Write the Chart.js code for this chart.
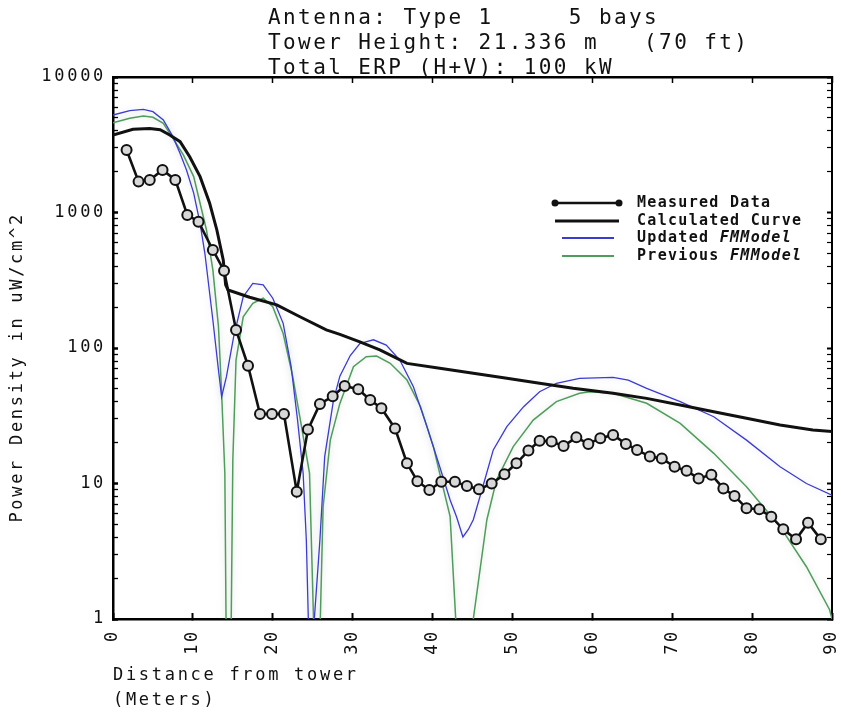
<!DOCTYPE html>
<html>
<head>
<meta charset="utf-8">
<script src="https://cdn.jsdelivr.net/npm/chart.js@4.4.0/dist/chart.umd.min.js"></script>
<style>
html,body{margin:0;padding:0;background:#fff;}
canvas{display:block;}
</style>
</head>
<body>
<canvas id="c" width="841" height="713"></canvas>
<script>
// ---------- chart text ----------
const titleLines = [
  'Antenna: Type 1     5 bays',
  'Tower Height: 21.336 m   (70 ft)',
  'Total ERP (H+V): 100 kW'
];
const xTitle = ['Distance from tower', '(Meters)'];
const yTitle = 'Power Density in uW/cm^2';
const seriesLabels = ['Measured Data', 'Calculated Curve', 'Updated FMModel', 'Previous FMModel'];

// ---------- tick values ----------
const xTickStep = 10;
const xRange = [0, 90];
const yDecades = [1, 10, 100, 1000, 10000];

// ---------- Measured Data ----------
const measuredX = [1.7, 3.2, 4.6, 6.2, 7.8, 9.3, 10.7, 12.5, 13.9, 15.4, 16.9, 18.4, 19.9, 21.4, 23.0, 24.4, 25.9, 27.5, 29.0,
  30.7, 32.2, 33.6, 35.3, 36.8, 38.1, 39.6, 41.1, 42.8, 44.3, 45.8, 47.4, 49.0, 50.5, 52.0, 53.4, 54.9, 56.4, 58.0, 59.5,
  61.0, 62.6, 64.2, 65.6, 67.2, 68.7, 70.3, 71.8, 73.3, 74.9, 76.4, 77.8, 79.3, 80.9, 82.4, 83.9, 85.5, 87.0, 88.6];
const measuredY = [2890, 1690, 1740, 2060, 1740, 960, 855, 529, 372, 136, 74, 32.6, 32.6, 32.6, 8.7, 25, 38.6, 44, 52.5,
  49.6, 41.3, 35.9, 25.5, 14.1, 10.4, 8.96, 10.3, 10.3, 9.6, 9.06, 10.0, 11.7, 14.1, 17.5, 20.7, 20.4, 18.9, 21.9, 19.6,
  21.6, 22.8, 19.6, 17.7, 15.8, 15.3, 13.3, 12.4, 10.9, 11.6, 9.2, 8.1, 6.56, 6.45, 5.69, 4.59, 3.87, 5.14, 3.87];

// ---------- Calculated Curve ----------
const calcX = [0, 2.5, 4.6, 5.9, 7.1, 8.4, 9.6, 10.9, 12.1, 13.0, 13.8, 14.1, 14.4, 17.1, 20.5, 23.4, 26.7, 28.4, 30.9,
  33.4, 36.8, 40.9, 45.1, 49.3, 53.4, 57.6, 62.6, 66.8, 71.0, 75.2, 79.3, 83.5, 87.6, 90];
const calcY = [3730, 4110, 4170, 4080, 3730, 3330, 2580, 1840, 1170, 743, 446, 292, 268, 237, 208, 170, 136, 126, 111,
  96.7, 77, 70.8, 65, 59.7, 54.9, 50.4, 46.3, 42.5, 37.9, 33.9, 30.3, 27, 24.8, 24.2];

// ---------- Updated FMModel ----------
const updatedX = [0, 2.1, 3.8, 5.0, 6.3, 7.5, 8.4, 9.2, 10.1, 10.9, 11.5, 12.5, 13.2, 13.6, 14.2, 15.1, 16.3, 17.5, 18.8,
  20.0, 21.3, 22.3, 23.1, 23.8, 24.2, 24.45, 24.8, 25.2, 25.9, 26.5, 27.6, 28.4, 29.7, 30.9, 32.6, 34.2, 35.9, 37.6,
  39.3, 40.9, 42.2, 43.0, 43.8, 44.5, 45.1, 46.3, 47.6, 49.3, 51.4, 53.4, 55.5, 58.4, 62.6, 64.5, 66.8, 71.0, 75.2,
  79.3, 83.5, 86.8, 90];
const updatedY = [5240, 5640, 5770, 5550, 4820, 3630, 2730, 2060, 1390, 832, 500, 161, 68.8, 43.7, 61.4, 121, 239, 300, 292,
  233, 152, 72.8, 29.4, 11.9, 3.83, 1.0, 0.3, 1.0, 3.83, 15.8, 41.3, 62, 88, 108, 115, 105, 81.5, 51.8,
  26.3, 13.3, 7.55, 5.69, 4.03, 4.6, 5.4, 9.5, 17.7, 26.3, 36.9, 47.6, 54.9, 59.7, 60.8, 58, 50.4, 40.2, 31.1,
  20.9, 13.3, 10, 8.2];

// ---------- Previous FMModel ----------
const previousX = [0, 2.1, 3.8, 5.0, 6.3, 7.5, 8.8, 10.1, 10.9, 11.7, 12.5, 13.2, 13.6, 14.0, 14.15, 14.45, 14.8, 15.0,
  15.4, 16.3, 17.5, 18.8, 20.0, 21.3, 22.5, 23.6, 24.6, 25.1, 25.5, 25.95, 26.3, 27.2, 28.4, 30.1, 31.7, 33.0, 34.7,
  36.8, 38.5, 40.1, 41.3, 42.2, 42.9, 44.0, 45.1, 46.8, 48.0, 50.1, 52.6, 55.5, 58.4, 59.7, 62.6, 66.8, 71.0, 75.2,
  79.3, 83.5, 86.8, 89.7, 90];
const previousY = [4600, 4960, 5150, 5040, 4550, 3530, 2660, 1840, 1170, 743, 377, 144, 46.3, 11.9, 1.0, 0.2, 1.0, 14.9,
  81.5, 170, 214, 233, 202, 128, 61.4, 26.3, 11.9, 1.0, 0.2, 1.0, 6.74, 20.9, 39, 72.8, 86.2, 87.3, 77.1,
  58, 36.9, 18.7, 9.47, 5.69, 1.0, 0.2, 1.0, 5.4, 10.6, 18.7, 29.4, 40.2, 46.3, 47.6, 46.3, 39.1, 27.8, 16.7,
  9.47, 4.8, 2.43, 1.17, 1.0];

// ---------- styling ----------
const MONO = '"DejaVu Sans Mono", "Liberation Mono", monospace';
const INK = '#111';
const BLUE = '#3b3bcf';
const GREEN = '#4f9d5c';

const pts = (xs, ys) => xs.map((x, i) => ({x, y: ys[i]}));

// log ticks: 1..9 per decade
const yTickValues = [];
for (let d = 0; d < yDecades.length - 1; d++) {
  for (let m = 1; m <= 9; m++) yTickValues.push({value: yDecades[d] * m, major: m === 1});
}
yTickValues.push({value: yDecades[yDecades.length - 1], major: true});
const setYTicks = s => { s.ticks = yTickValues.map(t => ({value: t.value, major: t.major})); };
const isMajorTick = c => c.tick && c.tick.major;
const noPadH = s => { s.paddingLeft = 0; s.paddingRight = 0; };
const noPadV = s => { s.paddingTop = 0; s.paddingBottom = 0; };

const annotPlugin = {
  id: 'annot',
  beforeDraw(chart) {
    chart.ctx.letterSpacing = '2.7px';
  },
  beforeDatasetDraw(chart, args) {
    const ctx = chart.ctx;
    if (args.index === 3 || args.index === 2) {
      ctx.shadowColor = args.index === 3 ? 'rgba(120,150,120,0.35)' : 'rgba(130,130,200,0.25)';
      ctx.shadowBlur = 7;
    }
  },
  afterDatasetDraw(chart) {
    chart.ctx.shadowColor = 'rgba(0,0,0,0)';
    chart.ctx.shadowBlur = 0;
  },
  afterDraw(chart) {
    const ctx = chart.ctx;
    ctx.save();
    // title
    ctx.letterSpacing = '2.4px';
    ctx.font = '21px ' + MONO;
    ctx.fillStyle = INK;
    ctx.textBaseline = 'middle';
    ctx.textAlign = 'left';
    titleLines.forEach((t, i) => ctx.fillText(t, 268, 19 + 25 * i));

    // legend
    const ds = chart.data.datasets;
    const rows = [203, 221, 238, 256];
    const textX = 637;
    ds.forEach((d, i) => {
      const y = rows[i];
      ctx.strokeStyle = d.borderColor;
      ctx.lineWidth = i === 0 ? 2.5 : (i === 1 ? 3 : 2);
      const x0 = i < 2 ? 555 : 562, x1 = i < 2 ? 619 : 614;
      ctx.beginPath(); ctx.moveTo(x0, y); ctx.lineTo(x1, y); ctx.stroke();
      if (i === 0) {
        ctx.fillStyle = d.borderColor;
        [x0, x1].forEach(px => { ctx.beginPath(); ctx.arc(px, y, 3.5, 0, Math.PI * 2); ctx.fill(); });
      }
      ctx.fillStyle = INK;
      ctx.letterSpacing = '1.3px';
      const label = d.label;
      const k = label.indexOf('FMModel');
      if (k >= 0) {
        const head = label.slice(0, k);
        ctx.font = 'bold 15px ' + MONO;
        ctx.fillText(head, textX, y);
        const w = ctx.measureText(head).width;
        ctx.font = 'italic bold 15px ' + MONO;
        ctx.fillText(label.slice(k), textX + w, y);
      } else {
        ctx.font = 'bold 15px ' + MONO;
        ctx.fillText(label, textX, y);
      }
    });
    ctx.restore();
  }
};

const tickFont = {family: MONO, size: 17};

new Chart(document.getElementById('c'), {
  type: 'line',
  data: {
    datasets: [
      {
        label: seriesLabels[0], data: pts(measuredX, measuredY),
        borderColor: '#111', borderWidth: 2.6, pointRadius: 5, pointBorderWidth: 2,
        pointBackgroundColor: '#d8d8d8', pointBorderColor: '#111', tension: 0
      },
      {
        label: seriesLabels[1], data: pts(calcX, calcY),
        borderColor: '#111', borderWidth: 3, pointRadius: 0, tension: 0
      },
      {
        label: seriesLabels[2], data: pts(updatedX, updatedY),
        borderColor: BLUE, borderWidth: 1.3, pointRadius: 0, tension: 0
      },
      {
        label: seriesLabels[3], data: pts(previousX, previousY),
        borderColor: GREEN, borderWidth: 1.5, pointRadius: 0, tension: 0
      }
    ]
  },
  options: {
    responsive: false,
    animation: false,
    devicePixelRatio: 1,
    layout: {padding: 0},
    plugins: {
      legend: {display: false},
      title: {display: false},
      tooltip: {enabled: false}
    },
    scales: {
      x: {
        type: 'linear', position: 'bottom', min: xRange[0], max: xRange[1],
        ticks: {
          stepSize: xTickStep, minRotation: 90, maxRotation: 90, autoSkip: false,
          padding: 16, font: tickFont, color: INK, callback: v => String(v)
        },
        grid: {drawOnChartArea: false, drawTicks: true, tickLength: -6, tickWidth: 2, tickColor: '#000'},
        border: {display: true, width: 2.5, color: '#000'},
        title: {
          display: true, text: xTitle, align: 'start', color: INK,
          font: {family: MONO, size: 17, lineHeight: '25px'}, padding: {top: 0, bottom: 0}
        },
        afterFit: s => { s.height = 94; noPadH(s); }
      },
      x2: {
        type: 'linear', position: 'top', min: xRange[0], max: xRange[1], display: true,
        ticks: {stepSize: xTickStep, display: false},
        grid: {drawOnChartArea: false, drawTicks: true, tickLength: -6, tickWidth: 1.5, tickColor: '#000'},
        border: {display: true, width: 2.5, color: '#000'},
        afterFit: s => { s.height = 77; noPadH(s); }
      },
      y: {
        type: 'logarithmic', position: 'left', min: yDecades[0], max: yDecades[yDecades.length - 1],
        afterBuildTicks: setYTicks,
        ticks: {
          autoSkip: false, padding: 12, font: tickFont, color: INK,
          callback: function (v, i, ticks) { return ticks[i].major ? String(v) : ''; }
        },
        grid: {
          drawOnChartArea: false, drawTicks: true, tickLength: -5,
          tickWidth: c => isMajorTick(c) ? 2.5 : 1.3, tickColor: '#000'
        },
        border: {display: true, width: 2.5, color: '#000'},
        title: {
          display: true, text: yTitle + '   ', color: INK,
          font: {family: MONO, size: 17, lineHeight: '25px'}, padding: {top: 5, bottom: 0}
        },
        afterFit: s => { s.width = 113; noPadV(s); }
      },
      y2: {
        type: 'logarithmic', position: 'right', min: yDecades[0], max: yDecades[yDecades.length - 1], display: true,
        afterBuildTicks: setYTicks,
        ticks: {display: false, autoSkip: false},
        grid: {
          drawOnChartArea: false, drawTicks: true, tickLength: -5,
          tickWidth: c => isMajorTick(c) ? 2 : 1.2, tickColor: '#000'
        },
        border: {display: true, width: 2, color: '#000'},
        afterFit: s => { s.width = 9; noPadV(s); }
      }
    }
  },
  plugins: [annotPlugin]
});
</script>
</body>
</html>
